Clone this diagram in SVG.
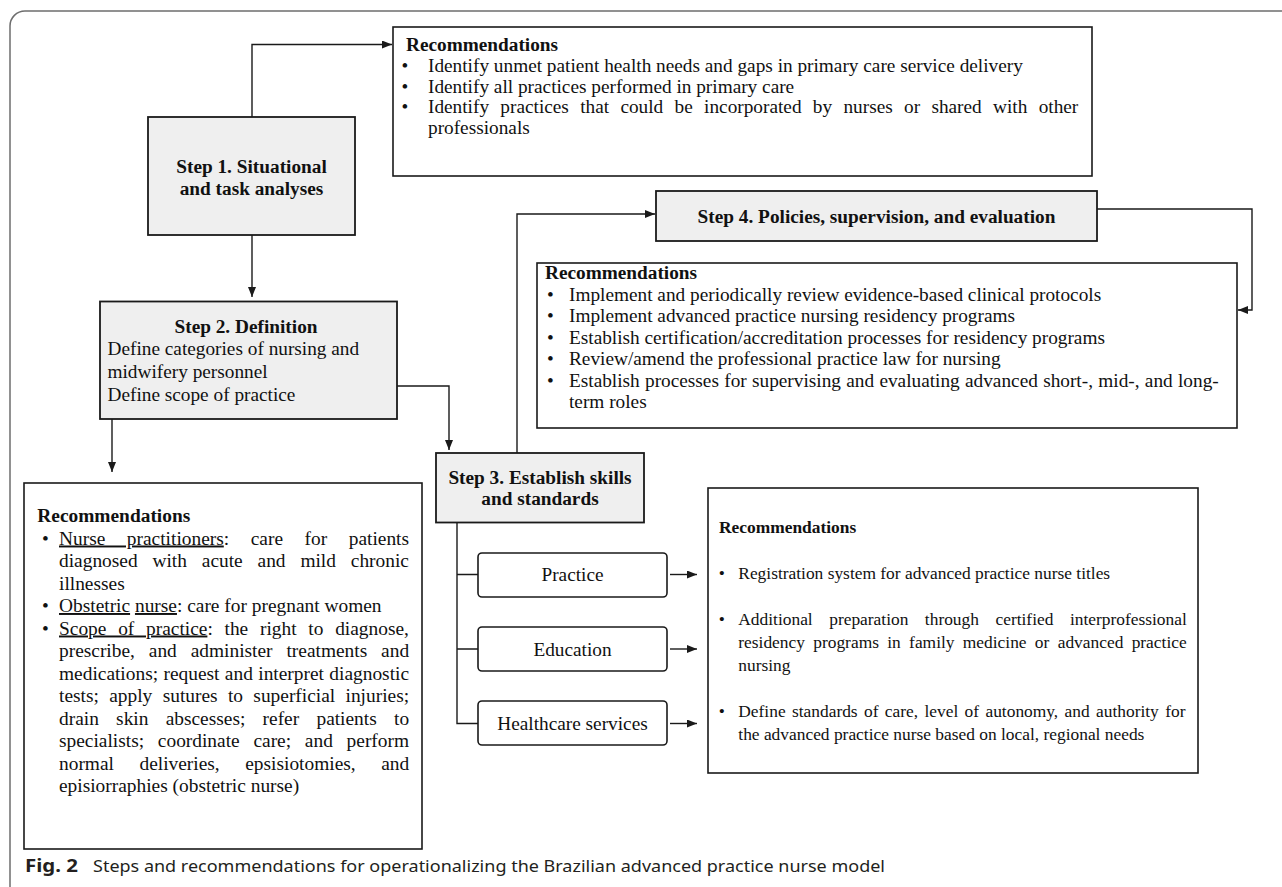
<svg xmlns="http://www.w3.org/2000/svg" width="1282" height="887" viewBox="0 0 1282 887">
<style>
.t{font-family:"Liberation Serif","Times New Roman",serif;font-size:19.3px;fill:#111}
.l{font-size:19.4px}
.s{font-size:17.4px}
.b{font-weight:bold}
.m{text-anchor:middle}
.u{text-decoration:underline}
.box{fill:#fff;stroke:#1a1a1a;stroke-width:1.6}
.step{fill:#efefef;stroke:#1a1a1a;stroke-width:1.8}
.con{fill:none;stroke:#1a1a1a;stroke-width:1.4}
.cap{font-family:"Noto Sans","Open Sans",sans-serif;font-size:17px;fill:#231f20}
</style>
<defs>
<marker id="ah" markerUnits="userSpaceOnUse" markerWidth="11" markerHeight="9" refX="10" refY="4" orient="auto">
<path d="M0,0 L10,4 L0,8 z" fill="#1a1a1a"/>
</marker>
</defs>
<rect width="1282" height="887" fill="#fff"/>
<path d="M10,887 V26 A15,15 0 0 1 25,11 H1282" fill="none" stroke="#6e6e6e" stroke-width="1.5"/>

<g id="connectors">
<path class="con" d="M252,117 V44.5 H392" marker-end="url(#ah)"/>
<path class="con" d="M252,235 V297" marker-end="url(#ah)"/>
<path class="con" d="M112,419 V472" marker-end="url(#ah)"/>
<path class="con" d="M397,386 H449 V450" marker-end="url(#ah)"/>
<path class="con" d="M517,453 V214 H655" marker-end="url(#ah)"/>
<path class="con" d="M1097,209 H1252 V310 H1238" marker-end="url(#ah)"/>
<path class="con" d="M457,522 V723.5 H478 M457,574.5 H478 M457,649 H478"/>
<path class="con" d="M670,574.5 H697" marker-end="url(#ah)"/>
<path class="con" d="M670,649 H697" marker-end="url(#ah)"/>
<path class="con" d="M670,723.5 H697" marker-end="url(#ah)"/>
</g>

<g id="step1">
<rect class="step" x="148" y="117" width="207" height="118"/>
<text class="t b m" x="251.5" y="173">Step 1. Situational</text>
<text class="t b m" x="251.5" y="195">and task analyses</text>
</g>

<g id="rec1">
<rect class="box" x="393" y="27" width="699" height="149"/>
<text class="t b" x="406" y="51">Recommendations</text>
<text class="t" x="401.6" y="71.8">•</text>
<text class="t" x="428" y="71.8">Identify unmet patient health needs and gaps in primary care service delivery</text>
<text class="t" x="401.6" y="92.5">•</text>
<text class="t" x="428" y="92.5">Identify all practices performed in primary care</text>
<text class="t" x="401.6" y="113.3">•</text>
<text class="t" x="428" y="113.3" word-spacing="6.5">Identify practices that could be incorporated by nurses or shared with other</text>
<text class="t" x="428" y="134">professionals</text>
</g>

<g id="step2">
<rect class="step" x="100" y="301.5" width="297" height="117.5"/>
<text class="t b m" x="246" y="332.7">Step 2. Definition</text>
<text class="t" x="107.5" y="355.2">Define categories of nursing and</text>
<text class="t" x="107.5" y="377.9">midwifery personnel</text>
<text class="t" x="107.5" y="400.6">Define scope of practice</text>
</g>

<g id="rec2">
<rect class="box" x="24" y="483" width="398" height="366"/>
<text class="t l b" x="37.3" y="522">Recommendations</text>
<text class="t l" x="42" y="544.5">•</text>
<text class="t l" x="59" y="544.5" word-spacing="16.7"><tspan class="u">Nurse practitioners</tspan>: care for patients</text>
<text class="t l" x="59" y="567" word-spacing="10">diagnosed with acute and mild chronic</text>
<text class="t l" x="59" y="589.5">illnesses</text>
<text class="t l" x="42" y="612">•</text>
<text class="t l" x="59" y="612"><tspan class="u">Obstetric</tspan> <tspan class="u">nurse</tspan>: care for pregnant women</text>
<text class="t l" x="42" y="634.5">•</text>
<text class="t l" x="59" y="634.5" word-spacing="6.9"><tspan class="u">Scope of practice</tspan>: the right to diagnose,</text>
<text class="t l" x="59" y="657" word-spacing="9.05">prescribe, and administer treatments and</text>
<text class="t l" x="59" y="679.5" word-spacing="0.55">medications; request and interpret diagnostic</text>
<text class="t l" x="59" y="702" word-spacing="5.5">tests; apply sutures to superficial injuries;</text>
<text class="t l" x="59" y="724.5" word-spacing="12.4">drain skin abscesses; refer patients to</text>
<text class="t l" x="59" y="747" word-spacing="8.9">specialists; coordinate care; and perform</text>
<text class="t l" x="59" y="769.5" word-spacing="20.7">normal deliveries, epsisiotomies, and</text>
<text class="t l" x="59" y="792">episiorraphies (obstetric nurse)</text>
</g>

<g id="step3">
<rect class="step" x="436" y="453" width="208" height="69.5"/>
<text class="t b m" x="540" y="484">Step 3. Establish skills</text>
<text class="t b m" x="540" y="505">and standards</text>
</g>

<g id="practice">
<rect class="box" x="478" y="553" width="189" height="44" rx="4"/>
<text class="t m" x="572.5" y="581">Practice</text>
</g>
<g id="education">
<rect class="box" x="478" y="627" width="189" height="44" rx="4"/>
<text class="t m" x="572.5" y="655.5">Education</text>
</g>
<g id="healthcare">
<rect class="box" x="478" y="701" width="189" height="44" rx="4"/>
<text class="t m" x="572.5" y="729.5">Healthcare services</text>
</g>

<g id="rec3">
<rect class="box" x="708" y="488" width="490" height="285"/>
<text class="t s b" x="719" y="533">Recommendations</text>
<text class="t s" x="718.7" y="579">•</text>
<text class="t s" x="738.3" y="579">Registration system for advanced practice nurse titles</text>
<text class="t s" x="718.7" y="625">•</text>
<text class="t s" x="738.3" y="625" word-spacing="12.15">Additional preparation through certified interprofessional</text>
<text class="t s" x="738.3" y="648" word-spacing="3.97">residency programs in family medicine or advanced practice</text>
<text class="t s" x="738.3" y="671">nursing</text>
<text class="t s" x="718.7" y="717">•</text>
<text class="t s" x="738.3" y="717" word-spacing="2">Define standards of care, level of autonomy, and authority for</text>
<text class="t s" x="738.3" y="740">the advanced practice nurse based on local, regional needs</text>
</g>

<g id="step4">
<rect class="step" x="656" y="191" width="441" height="50"/>
<text class="t b m" x="876.5" y="222.5">Step 4. Policies, supervision, and evaluation</text>
</g>

<g id="rec4">
<rect class="box" x="537" y="263" width="700" height="165"/>
<text class="t b" x="545" y="279">Recommendations</text>
<text class="t" x="547" y="300.5">•</text>
<text class="t" x="569" y="300.5">Implement and periodically review evidence-based clinical protocols</text>
<text class="t" x="547" y="322">•</text>
<text class="t" x="569" y="322">Implement advanced practice nursing residency programs</text>
<text class="t" x="547" y="343.5">•</text>
<text class="t" x="569" y="343.5">Establish certification/accreditation processes for residency programs</text>
<text class="t" x="547" y="365">•</text>
<text class="t" x="569" y="365">Review/amend the professional practice law for nursing</text>
<text class="t" x="547" y="386.5">•</text>
<text class="t" x="569" y="386.5" word-spacing="0.5">Establish processes for supervising and evaluating advanced short-, mid-, and long-</text>
<text class="t" x="569" y="408">term roles</text>
</g>

<g id="caption">
<text class="cap" x="25" y="872" font-weight="bold" textLength="53" lengthAdjust="spacingAndGlyphs">Fig. 2</text>
<text class="cap" x="93" y="872" textLength="792" lengthAdjust="spacingAndGlyphs">Steps and recommendations for operationalizing the Brazilian advanced practice nurse model</text>
</g>
</svg>
